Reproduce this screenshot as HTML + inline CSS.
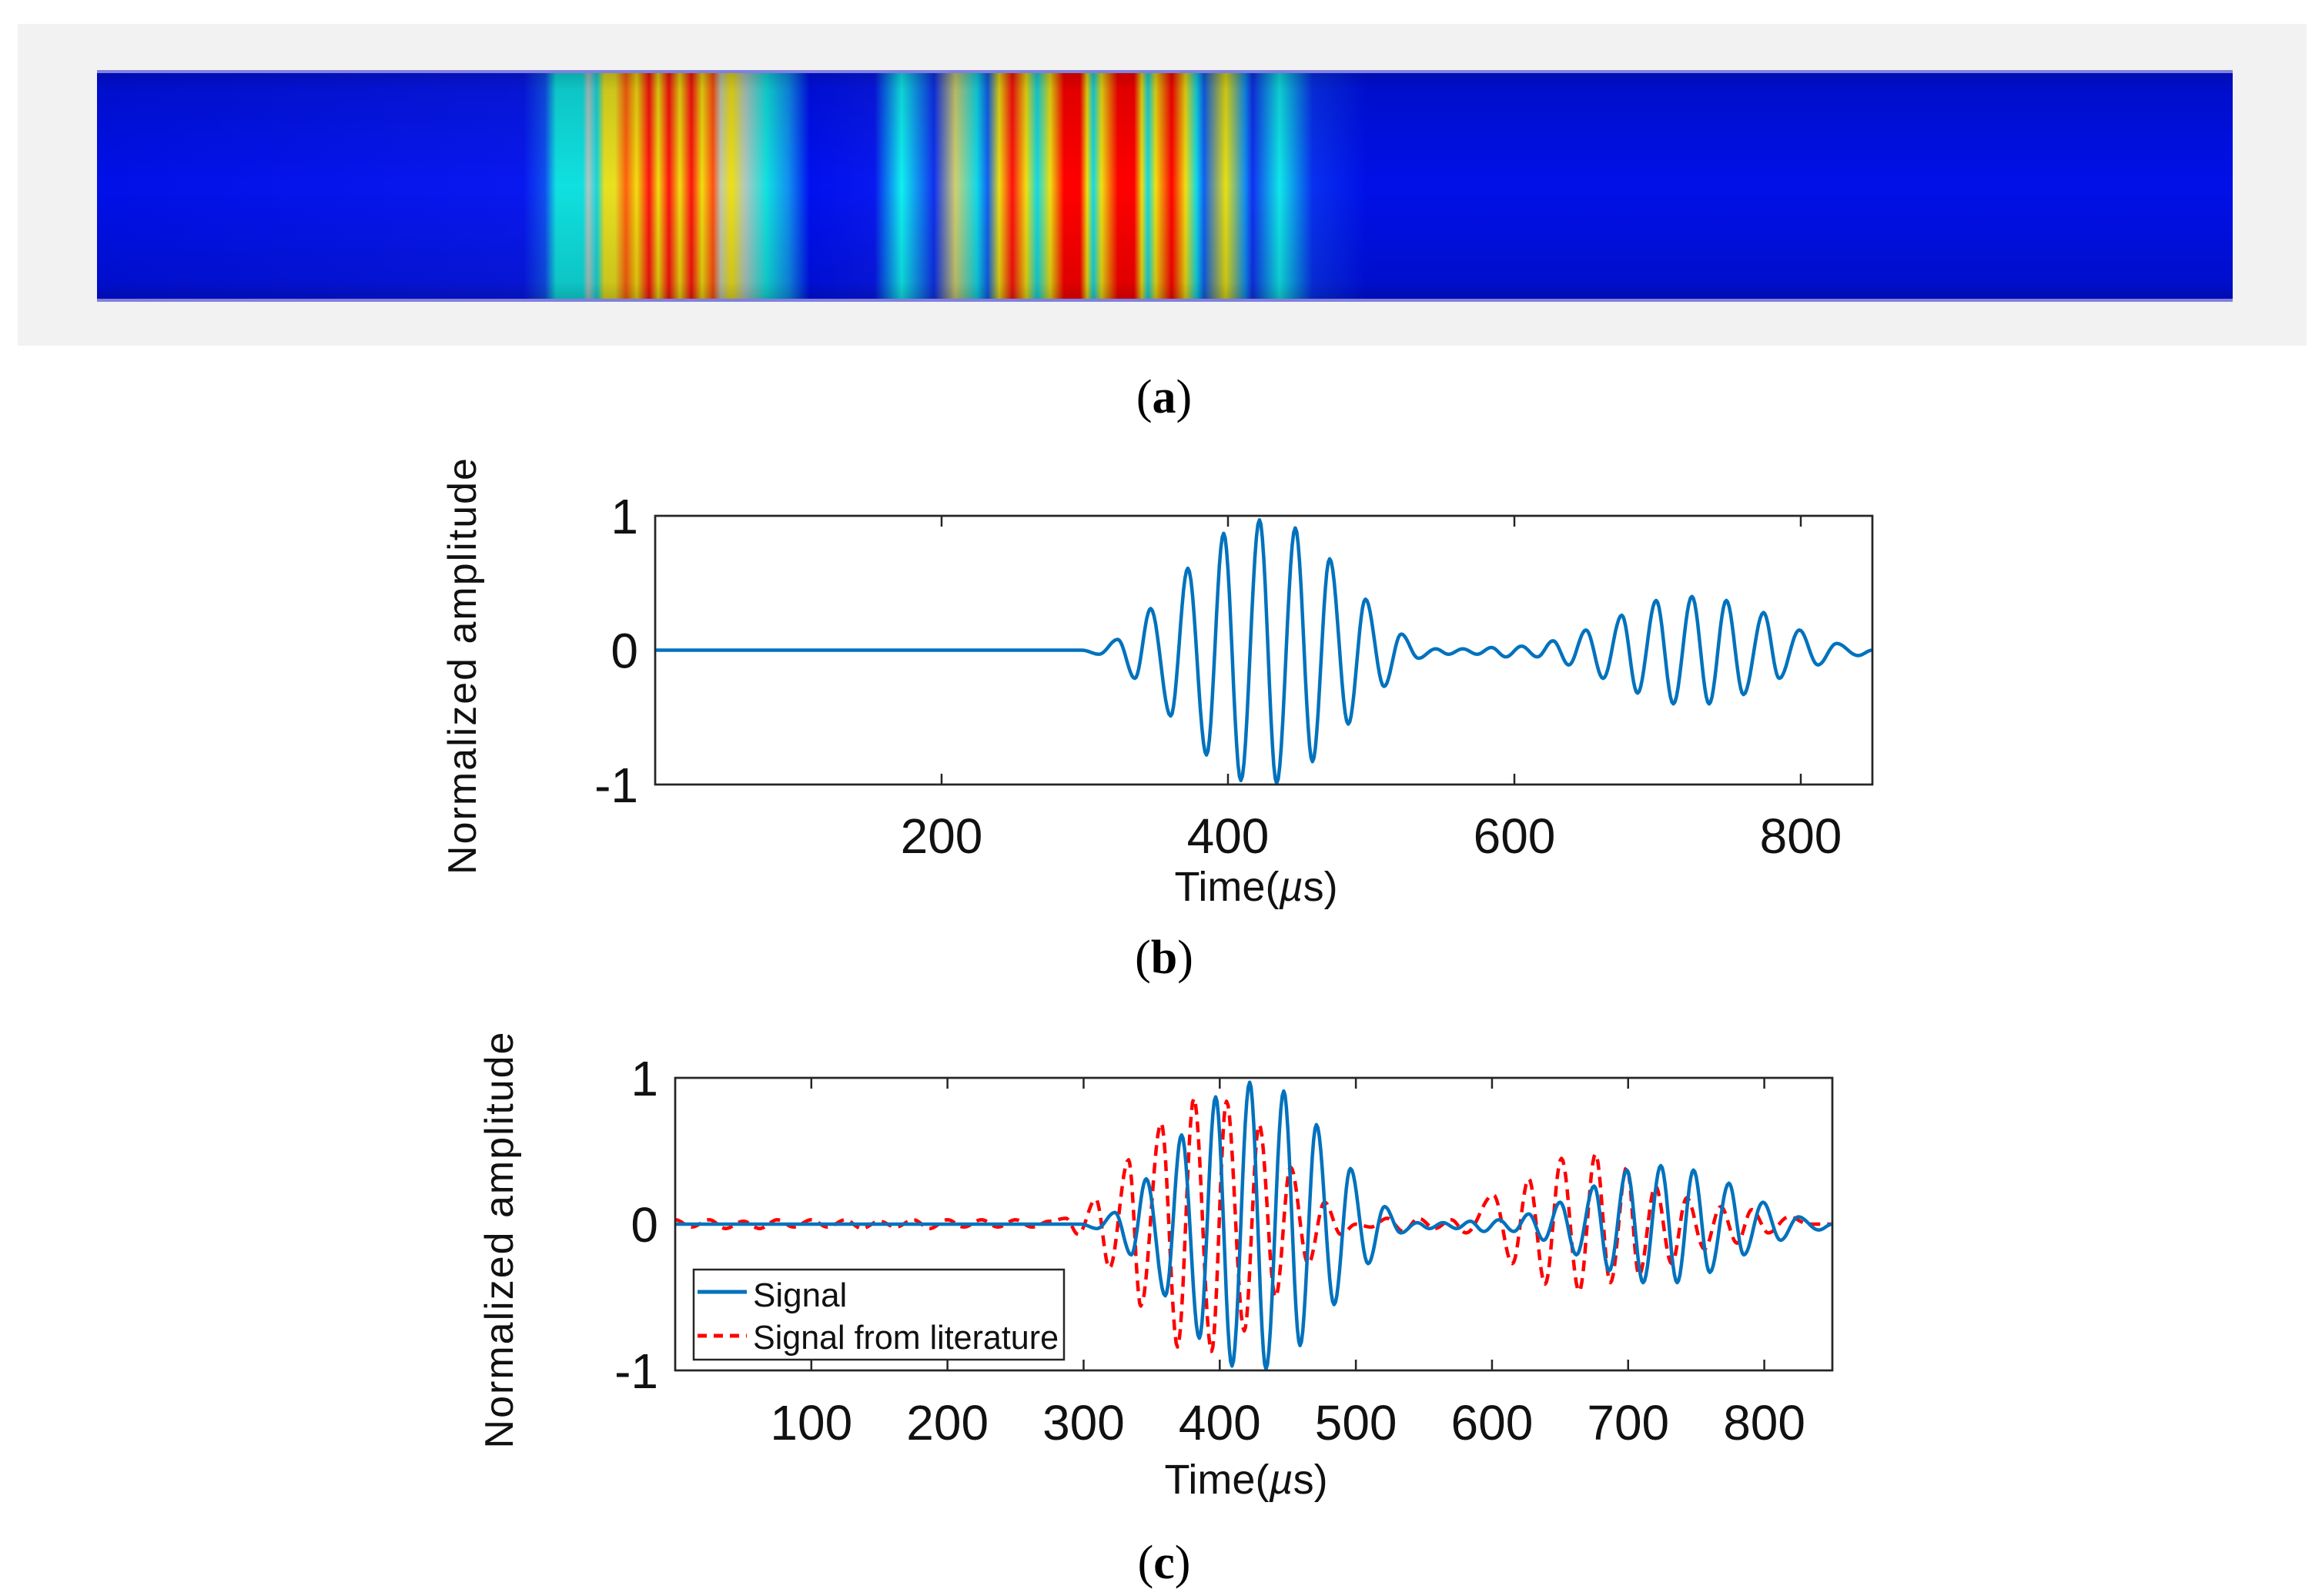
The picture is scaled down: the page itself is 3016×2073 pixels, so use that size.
<!DOCTYPE html>
<html><head><meta charset="utf-8"><style>
html,body{margin:0;padding:0;background:#fff;}
svg{display:block;}
text{font-family:"Liberation Sans",sans-serif;}
text.serif{font-family:"Liberation Serif",serif;}
</style></head><body>
<svg id="fig" width="3016" height="2073" viewBox="0 0 3016 2073" xmlns="http://www.w3.org/2000/svg">
<defs>
<linearGradient id="tubeShade" x1="0" y1="0" x2="0" y2="1">
<stop offset="0" stop-color="#000" stop-opacity="0.25"/>
<stop offset="0.08" stop-color="#000" stop-opacity="0.12"/>
<stop offset="0.5" stop-color="#000" stop-opacity="0"/>
<stop offset="0.92" stop-color="#000" stop-opacity="0.12"/>
<stop offset="1" stop-color="#000" stop-opacity="0.25"/>
</linearGradient>
<linearGradient id="stripes" gradientUnits="userSpaceOnUse" x1="126" y1="0" x2="2900" y2="0"></linearGradient>
</defs>
<g id="panelA">
<rect x="23" y="31" width="2973" height="418" fill="#f2f2f2"/>
<rect x="126" y="93" width="2774" height="297" fill="url(#stripes)"/>
<rect x="126" y="93" width="2774" height="297" fill="url(#tubeShade)"/>
<rect x="126" y="91" width="2774" height="4" fill="#8080e0"/>
<rect x="126" y="388" width="2774" height="4" fill="#8080e0"/>
</g>
<text class="serif" x="1512" y="536" font-size="62" text-anchor="middle">(<tspan font-weight="bold">a</tspan>)</text>
<g id="chartB"></g>
<text class="serif" x="1512" y="1264" font-size="62" text-anchor="middle">(<tspan font-weight="bold">b</tspan>)</text>
<g id="chartC"></g>
<text class="serif" x="1512" y="2050" font-size="62" text-anchor="middle">(<tspan font-weight="bold">c</tspan>)</text>
</svg>
<script>
// ---- data ----
const xTicksB = [200, 400, 600, 800];
const xTicksC = [100, 200, 300, 400, 500, 600, 700, 800];
const yTicks = [-1, 0, 1];
const signalT = [0,298,310,323,335,346,360,372,385,397,409,422,434,447,459,471,484,496,509,521,533,545,554,564,574,584,594,605,616,627,638,650,662,675,686,699,711,724,736,748,760,774,785,799,812,825,840,850];
const signalA = [0,0,-0.03,0.08,-0.21,0.31,-0.49,0.61,-0.78,0.87,-0.97,0.97,-0.99,0.91,-0.83,0.68,-0.55,0.38,-0.27,0.12,-0.06,0.01,-0.03,0.01,-0.03,0.02,-0.05,0.03,-0.05,0.07,-0.11,0.15,-0.21,0.26,-0.32,0.37,-0.40,0.40,-0.40,0.37,-0.33,0.28,-0.21,0.15,-0.11,0.05,-0.04,0];
const litT = [0,12,25,37,50,62,75,87,100,112,125,137,150,162,175,187,200,212,225,237,250,262,275,287,296,309,319,333,342,357,369,381,394,405,418,429,441,452,465,477,489,500,511,523,535,546,558,570,581,601,615,627,639,651,664,676,687,699,708,720,732,743,756,768,780,791,803,818,833,850];
const litA = [0.03,-0.02,0.03,-0.03,0.02,-0.03,0.03,-0.02,0.03,-0.02,0.03,-0.03,0.02,-0.02,0.03,-0.03,0.03,-0.02,0.03,-0.02,0.03,-0.02,0.02,0.04,-0.07,0.17,-0.30,0.44,-0.56,0.69,-0.84,0.86,-0.87,0.84,-0.73,0.68,-0.50,0.39,-0.27,0.15,-0.07,0,-0.02,0.04,-0.05,0.04,-0.03,0.03,-0.06,0.20,-0.27,0.31,-0.41,0.45,-0.46,0.48,-0.40,0.39,-0.35,0.26,-0.27,0.18,-0.17,0.12,-0.13,0.10,-0.06,0.05,0,0];
const stripePos = [126,680,708,722,757,764,775,785,799,813,827,843,855,869,883,898,912,926,936,950,968,996,1024,1052,1136,1171,1213,1241,1269,1283,1298,1315,1333,1347,1364,1382,1403,1412,1420,1431,1452,1473,1483,1491,1501,1522,1540,1554,1564,1592,1617,1627,1662,1705,1775,2900];
const stripeCol = ['#0010e8','#0818f0','#1050f0','#10e0e0','#10e0e0','#b0c8c0','#10d8e0','#e8e020','#e8e020','#ff6010','#f0e010','#ff1010','#f0e010','#ff1010','#f0e010','#ff1010','#f0e010','#ff5010','#c0c8b0','#f0e010','#b0c8c0','#10e0e0','#1090f0','#0010f0','#0818f0','#10f0f0','#1030f0','#d0d070','#10d8e8','#1060f0','#f0e010','#ff1010','#f0e010','#10d8e8','#f0e010','#ff0000','#ff0000','#f0e010','#10d8e8','#f0e010','#ff0000','#ff0000','#f0e010','#10d8e8','#f0e010','#ff0000','#f0e010','#10d8e8','#1060f0','#e8e010','#1090f0','#1030f0','#10e8e8','#0830f0','#0010e8','#0010e8'];

const NS = 'http://www.w3.org/2000/svg';
function mk(tag, attrs, parent) {
  const e = document.createElementNS(NS, tag);
  for (const k in attrs) e.setAttribute(k, attrs[k]);
  parent.appendChild(e);
  return e;
}
const grad = document.getElementById('stripes');
stripePos.forEach((p, i) => {
  mk('stop', {offset: ((p - 126) / 2774).toFixed(4), 'stop-color': stripeCol[i]}, grad);
});

function curvePath(T, A, sx, sy) {
  let d = 'M' + sx(T[0]).toFixed(1) + ' ' + sy(A[0]).toFixed(1);
  for (let i = 0; i < T.length - 1; i++) {
    const n = 12;
    for (let k = 1; k <= n; k++) {
      const f = k / n;
      const w = (1 - Math.cos(Math.PI * f)) / 2;
      const t = T[i] + (T[i + 1] - T[i]) * f;
      const a = A[i] + (A[i + 1] - A[i]) * w;
      d += 'L' + sx(t).toFixed(1) + ' ' + sy(a).toFixed(1);
    }
  }
  return d;
}

function drawChart(g, L, R, Tp, B, xticks, series, ytitle, xtitleY, yTitleX, tickLabelY) {
  const sx = t => L + (t / 850) * (R - L);
  const sy = a => (Tp + B) / 2 - a * (B - Tp) / 2;
  const frame = mk('rect', {x: L, y: Tp, width: R - L, height: B - Tp, fill: '#fff', stroke: '#262626', 'stroke-width': 2.5}, g);
  
  
  xticks.forEach(v => {
    const x = sx(v);
    const t1 = mk('line', {x1: x, y1: B, x2: x, y2: B - 14, stroke: '#262626', 'stroke-width': 2.5}, g);
    
    
    const t2 = mk('line', {x1: x, y1: Tp, x2: x, y2: Tp + 14, stroke: '#262626', 'stroke-width': 2.5}, g);
    
    
    const lb = mk('text', {x: x, y: tickLabelY, 'font-size': 64, 'text-anchor': 'middle', fill: '#111'}, g);
    lb.textContent = v;
    
    
  });
  yTicks.forEach(v => {
    const y = sy(v);
    const lb = mk('text', {x: L - 22, y: y + 23, 'font-size': 64, 'text-anchor': 'end', fill: '#111'}, g);
    lb.textContent = v;
    
    
  });
  series.forEach(s => {
    const p = mk('path', {d: curvePath(s.T, s.A, sx, sy), fill: 'none', stroke: s.color, 'stroke-width': 4.5, 'stroke-linejoin': 'round'}, g);
    if (s.dash) p.setAttribute('stroke-dasharray', s.dash);
    
    
  });
  const fr2 = mk('rect', {x: L, y: Tp, width: R - L, height: B - Tp, fill: 'none', stroke: '#262626', 'stroke-width': 2.5}, g);
  
  
  const yt = mk('text', {x: 0, y: 0, 'font-size': 52, 'text-anchor': 'middle', 'letter-spacing': '2', fill: '#111', transform: 'translate(' + yTitleX + ',' + ((Tp + B) / 2 + 20) + ') rotate(-90)'}, g);
  yt.textContent = 'Normalized amplitude';
  
  
  const xt = mk('text', {x: (L + R) / 2 - 10, y: xtitleY, 'font-size': 54, 'text-anchor': 'middle', fill: '#111'}, g);
  xt.innerHTML = 'Time(<tspan font-style="italic">\u00b5</tspan>s)';
  
  
  return {sx, sy};
}

const gB = document.getElementById('chartB');
drawChart(gB, 851, 2432, 670, 1019, xTicksB,
  [{T: signalT, A: signalA, color: '#0072BD', name: 'signal-line'}],
  'Normalized amplitude', 1170, 618, 1108);

const gC = document.getElementById('chartC');
drawChart(gC, 877, 2380, 1400, 1780, xTicksC,
  [{T: litT, A: litA, color: '#FF0000', dash: '14 9', name: 'literature-signal-line'},
   {T: signalT, A: signalA, color: '#0072BD', name: 'signal-line'}],
  'Normalized amplitude', 1940, 666, 1870);

const lg = mk('g', {}, gC);


const lbox = mk('rect', {x: 901, y: 1649, width: 481, height: 117, fill: '#fff', stroke: '#262626', 'stroke-width': 2.5}, lg);


const l1 = mk('line', {x1: 906, y1: 1678, x2: 970, y2: 1678, stroke: '#0072BD', 'stroke-width': 5}, lg);


const t1 = mk('text', {x: 978, y: 1697, 'font-size': 44, fill: '#111'}, lg);
t1.textContent = 'Signal';


const l2 = mk('line', {x1: 906, y1: 1735, x2: 970, y2: 1735, stroke: '#FF0000', 'stroke-width': 5, 'stroke-dasharray': '12 9'}, lg);


const t2 = mk('text', {x: 978, y: 1752, 'font-size': 44, fill: '#111', textLength: 397, lengthAdjust: 'spacingAndGlyphs'}, lg);
t2.textContent = 'Signal from literature';


</script>
</body></html>
